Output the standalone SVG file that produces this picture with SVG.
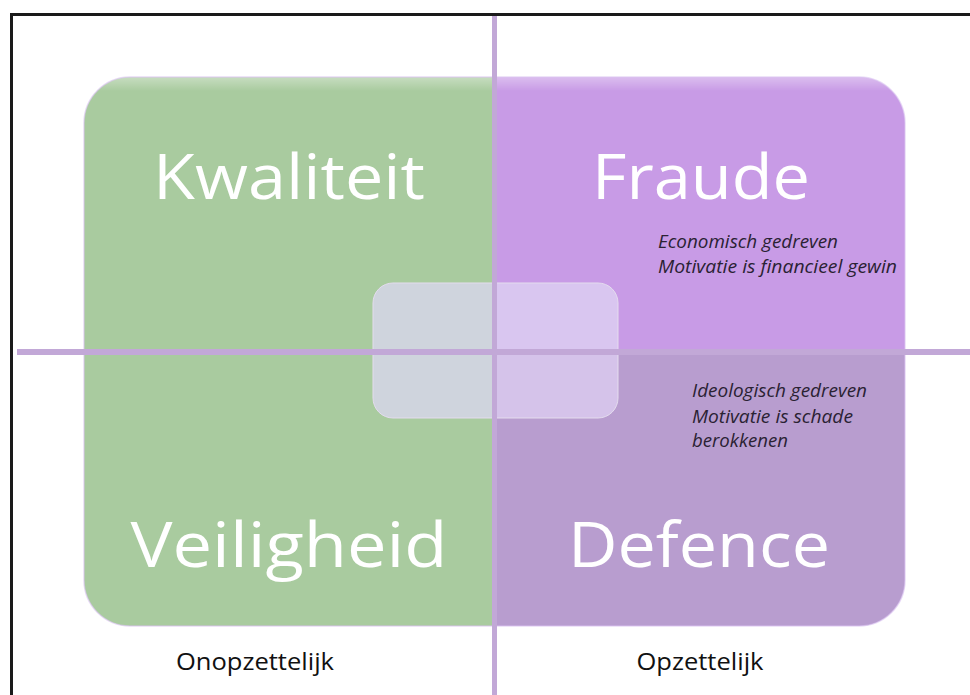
<svg xmlns="http://www.w3.org/2000/svg" width="970" height="695" viewBox="0 0 970 695">
  <style>
    .big { font-family: "Open Sans", "Liberation Sans", sans-serif; font-size: 63px; fill: #ffffff; text-anchor: middle; }
    .note { font-family: "Open Sans", "Liberation Sans", sans-serif; font-size: 18px; font-style: italic; fill: #2a2233; }
    .axis { font-family: "Open Sans", "Liberation Sans", sans-serif; font-size: 23px; fill: #111111; text-anchor: middle; }
    .line { fill: #c2a8d7; }
  </style>
  <defs>
    <clipPath id="bigClip">
      <rect x="84" y="77" width="821" height="549" rx="46" ry="46"/>
    </clipPath>
    <clipPath id="midClip">
      <rect x="373" y="283" width="245" height="135" rx="20" ry="20"/>
    </clipPath>
    <linearGradient id="topHi" x1="0" y1="0" x2="0" y2="1">
      <stop offset="0" stop-color="#ffffff" stop-opacity="0.35"/>
      <stop offset="1" stop-color="#ffffff" stop-opacity="0"/>
    </linearGradient>
  </defs>
  <rect x="0" y="0" width="970" height="695" fill="#ffffff"/>
  <!-- frame -->
  <rect x="10" y="13" width="3" height="682" fill="#1a1a1a"/>
  <rect x="10" y="13" width="960" height="3" fill="#1a1a1a"/>

  <g id="kwaliteit">
    <rect x="84" y="77" width="410" height="275" fill="#a9cb9f" clip-path="url(#bigClip)"/>
    <text class="big" x="289" y="199" textLength="272" lengthAdjust="spacingAndGlyphs">Kwaliteit</text>
  </g>
  <g id="fraude">
    <rect x="494" y="77" width="411" height="275" fill="#c89be6" clip-path="url(#bigClip)"/>
    <text class="big" x="701" y="199" textLength="218" lengthAdjust="spacingAndGlyphs">Fraude</text>
    <text class="note" x="658" y="248" textLength="180" lengthAdjust="spacingAndGlyphs">Economisch gedreven</text>
    <text class="note" x="658" y="273" textLength="239" lengthAdjust="spacingAndGlyphs">Motivatie is financieel gewin</text>
  </g>
  <g id="veiligheid">
    <rect x="84" y="352" width="410" height="274" fill="#a9cb9f" clip-path="url(#bigClip)"/>
    <text class="big" x="289" y="567" textLength="317" lengthAdjust="spacingAndGlyphs">Veiligheid</text>
  </g>
  <g id="defence">
    <rect x="494" y="352" width="411" height="274" fill="#b89dcf" clip-path="url(#bigClip)"/>
    <text class="note" x="692" y="397" textLength="175" lengthAdjust="spacingAndGlyphs">Ideologisch gedreven</text>
    <text class="note" x="692" y="423" textLength="161" lengthAdjust="spacingAndGlyphs">Motivatie is schade</text>
    <text class="note" x="692" y="447" textLength="96" lengthAdjust="spacingAndGlyphs">berokkenen</text>
    <text class="big" x="699" y="567" textLength="262" lengthAdjust="spacingAndGlyphs">Defence</text>
  </g>
  <!-- bevel highlight -->
  <rect x="84" y="77" width="821" height="14" fill="url(#topHi)" clip-path="url(#bigClip)"/>
  <rect x="84" y="77" width="821" height="549" rx="46" ry="46" fill="none" stroke="#d9c2f0" stroke-opacity="0.6" stroke-width="1.5"/>

  <g id="center">
    <rect x="373" y="283" width="121" height="135" fill="#cfd4dd" clip-path="url(#midClip)"/>
    <rect x="494" y="283" width="124" height="69" fill="#d9c6f0" clip-path="url(#midClip)"/>
    <rect x="494" y="352" width="124" height="66" fill="#d5c3ea" clip-path="url(#midClip)"/>
    <rect x="373" y="283" width="245" height="135" rx="20" ry="20" fill="none" stroke="#e4dcee" stroke-width="1"/>
  </g>

  <g id="connectors">
    <rect class="line" x="492" y="16" width="5" height="679"/>
    <rect class="line" x="17" y="349" width="953" height="6"/>
  </g>

  <g id="labels">
    <text class="axis" x="255" y="670" textLength="158" lengthAdjust="spacingAndGlyphs">Onopzettelijk</text>
    <text class="axis" x="700" y="670" textLength="127" lengthAdjust="spacingAndGlyphs">Opzettelijk</text>
  </g>
</svg>
